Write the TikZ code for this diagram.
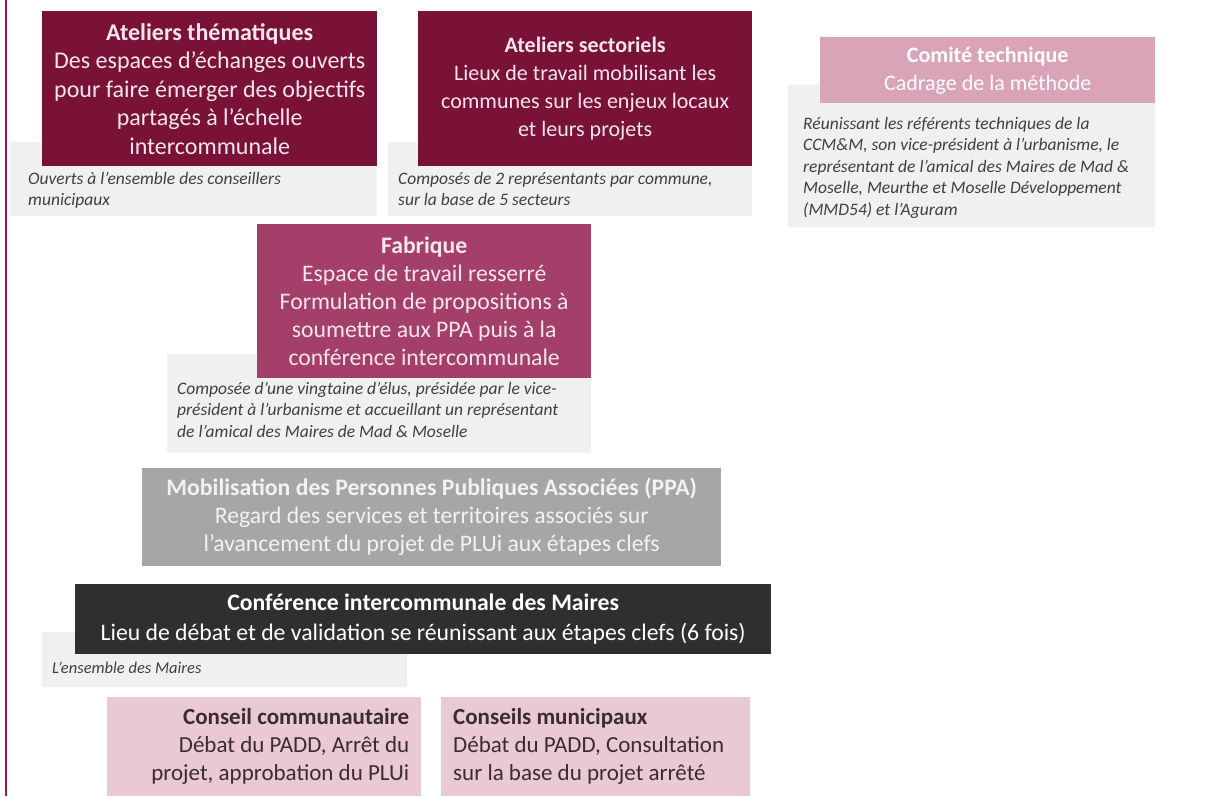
\documentclass[tikz,border=0pt]{standalone}
\usepackage{fontspec}
\setmainfont{Carlito}
\usetikzlibrary{positioning}
\definecolor{bordeaux}{HTML}{7A1136}
\definecolor{prune}{HTML}{A43F69}
\definecolor{rose}{HTML}{D9A3B8}
\definecolor{rosepale}{HTML}{E8C9D4}
\definecolor{gris}{HTML}{A6A6A6}
\definecolor{anthracite}{HTML}{2F2F2F}
\definecolor{fond}{HTML}{F0F0F0}
\definecolor{filet}{HTML}{A0184E}
\definecolor{encre}{HTML}{3C2B32}
\definecolor{blanccasse}{HTML}{F6E6EC}

\begin{document}
\begin{tikzpicture}[x=1pt,y=-1pt,
    bloc/.style={rectangle, anchor=north west, inner sep=0pt, align=center,
      font=\fontsize{23.7}{28}\selectfont},
    sombre/.style={bloc, fill=bordeaux, text=blanccasse},
    moyen/.style={bloc, fill=prune, text=blanccasse},
    clair/.style={bloc, fill=rose, text=white, font=\fontsize{22}{28}\selectfont},
    neutre/.style={bloc, fill=gris, text=white!95!black},
    noir/.style={bloc, fill=anthracite, text=white},
    pale/.style={bloc, fill=rosepale, text=encre, inner xsep=12pt,
      font=\fontsize{23}{28}\selectfont},
    note/.style={anchor=north west, inner sep=0pt, align=flush left, text=black!75,
      font=\fontsize{17.5}{21.5}\selectfont\itshape}]
  \useasboundingbox (0,0) rectangle (1214,796);
  \draw[filet, line width=2.5pt] (6,0) -- (6,796);

  \fill[fond] (10,142) rectangle (377,216);
  \node[sombre, minimum width=335pt, minimum height=155pt,
    font=\fontsize{24}{28.5}\selectfont] (atTheme) at (42,11)
    {\textbf{Ateliers thématiques}\\Des espaces d’échanges ouverts\\pour faire émerger des objectifs\\partagés à l’échelle\\intercommunale};
  \node[note] (atThemeNote) at (28,172) {Ouverts à l’ensemble des conseillers\\municipaux};

  \fill[fond] (388,142) rectangle (752,216);
  \node[sombre, minimum width=334pt, minimum height=155pt,
    font=\fontsize{22}{28}\selectfont] (atSect) at (418,11)
    {\textbf{Ateliers sectoriels}\\Lieux de travail mobilisant les\\communes sur les enjeux locaux\\et leurs projets};
  \node[note] (atSectNote) at (398,172) {Composés de 2 représentants par commune,\\sur la base de 5 secteurs};

  \fill[fond] (788,85) rectangle (1155,227);
  \node[clair, minimum width=335pt, minimum height=66pt] (coTech) at (820,37)
    {\textbf{Comité technique}\\Cadrage de la méthode};
  \node[note] (coTechNote) at (803,117) {Réunissant les référents techniques de la\\CCM\&M, son vice-président à l’urbanisme, le\\représentant de l’amical des Maires de Mad \&\\Moselle, Meurthe et Moselle Développement\\(MMD54) et l’Aguram};

  \fill[fond] (167,354) rectangle (591,453);
  \node[moyen, minimum width=334pt, minimum height=154pt] (fab) at (257,224)
    {\textbf{Fabrique}\\Espace de travail resserré\\Formulation de propositions à\\soumettre aux PPA puis à la\\conférence intercommunale};
  \node[note] (fabNote) at (177,382) {Composée d’une vingtaine d’élus, présidée par le vice-\\président à l’urbanisme et accueillant un représentant\\de l’amical des Maires de Mad \& Moselle};

  \node[neutre, minimum width=579pt, minimum height=98pt] (ppa) at (142,468)
    {\textbf{Mobilisation des Personnes Publiques Associées (PPA)}\\Regard des services et territoires associés sur\\l’avancement du projet de PLUi aux étapes clefs};

  \fill[fond] (42,632) rectangle (407,687);
  \node[noir, minimum width=696pt, minimum height=70pt,
    font=\fontsize{23.7}{30}\selectfont] (conf) at (75,584)
    {\textbf{Conférence intercommunale des Maires}\\Lieu de débat et de validation se réunissant aux étapes clefs (6 fois)};
  \node[note, font=\fontsize{16.5}{20}\selectfont\itshape] (confNote) at (52,662) {L’ensemble des Maires};

  \node[pale, text width=290pt, minimum height=99pt, align=flush right] (ccom) at (107,697)
    {\textbf{Conseil communautaire}\\Débat du PADD, Arrêt du\\projet, approbation du PLUi};
  \node[pale, text width=285pt, minimum height=99pt, align=flush left] (cmun) at (441,697)
    {\textbf{Conseils municipaux}\\Débat du PADD, Consultation\\sur la base du projet arrêté};
\end{tikzpicture}
\end{document}
